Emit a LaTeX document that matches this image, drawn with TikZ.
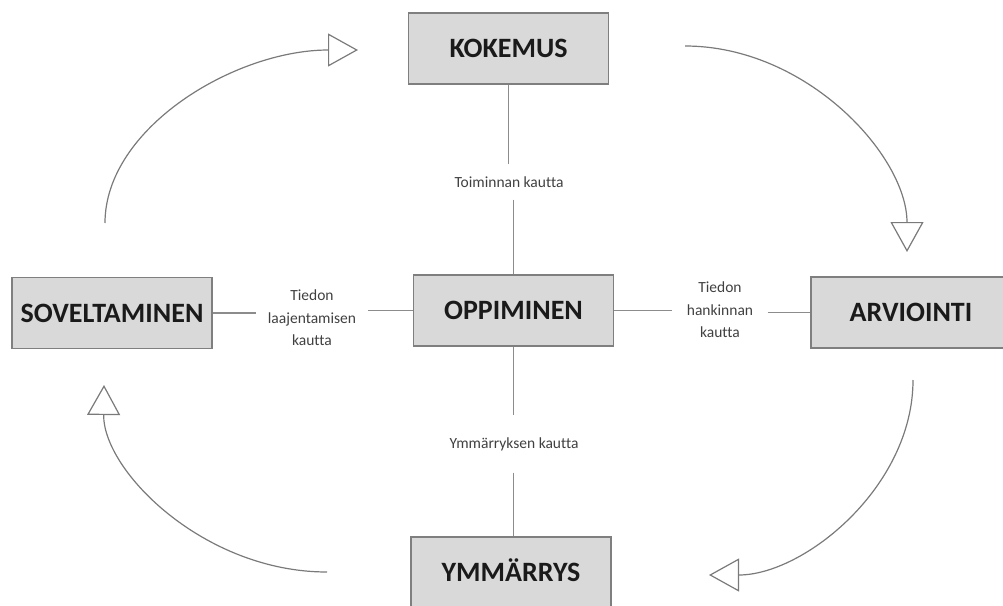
\documentclass[tikz,border=0pt]{standalone}
\usepackage{fontspec}
\setmainfont{Carlito}[Ligatures=NoCommon]
\usetikzlibrary{arrows.meta}
\definecolor{boxfill}{HTML}{D9D9D9}
\definecolor{boxline}{HTML}{7F7F7F}
\definecolor{linkline}{HTML}{8C8C8C}
\definecolor{cycleline}{HTML}{7A7A7A}
\definecolor{labeltext}{HTML}{404040}
\definecolor{titletext}{HTML}{1A1A1A}
\tikzset{
  stage/.style={draw=boxline, fill=boxfill, line width=1.4pt, minimum width=200pt,
    minimum height=71pt, inner sep=0pt, text=titletext, text height=19pt, text depth=1pt,
    font=\fontsize{28}{30}\selectfont\bfseries},
  via/.style={inner sep=0pt, align=center, text=labeltext,
    font=\fontsize{15.5}{22.5}\selectfont},
  link/.style={draw=linkline, line width=1.2pt},
  cycle/.style={draw=cycleline, line width=1.2pt,
    -{Triangle[open, length=30pt, width=33pt, line width=1.2pt]}},
}
\begin{document}
\begin{tikzpicture}[x=1pt, y=-1pt]
\useasboundingbox (0,0) rectangle (1003,605);

% the five stages
\node[stage] (kok) at (508.5,48.5) {KOKEMUS};
\node[stage] (opp) at (513.5,310.5) {OPPIMINEN};
\node[stage] (arv) at (911,312.5) {ARVIOINTI};
\node[stage] (sov) at (112,313) {SOVELTAMINEN};
\node[stage] (ymm) at (511,572.5) {YMM\"ARRYS};

% labels on the spokes
\node[via, minimum height=35pt] (toi) at (509,182) {Toiminnan kautta};
\node[via, minimum width=112pt] (laa) at (312,318) {Tiedon\\laajentamisen\\kautta};
\node[via, minimum width=95pt] (han) at (720,310) {Tiedon\\hankinnan\\kautta};
\node[via, minimum height=57pt] (ymk) at (514,444) {Ymm\"arryksen kautta};

% spokes from the centre to each stage
\draw[link] (kok) -- (kok |- toi.north);
\draw[link] (toi.south -| opp) -- (opp);
\draw[link] (sov) -- (sov -| laa.west);
\draw[link] (laa.east |- opp) -- (opp);
\draw[link] (opp) -- (opp -| han.west);
\draw[link] (han.east |- arv) -- (arv);
\draw[link] (opp) -- (opp |- ymk.north);
\draw[link] (ymk.south -| opp) -- (ymm.north -| opp);

% the outer cycle
\coordinate (c1s) at (105,223);
\coordinate (c1e) at (358,50);
\coordinate (c2s) at (685,46);
\coordinate (c2e) at (907,252);
\coordinate (c3s) at (913,380);
\coordinate (c3e) at (709,575);
\coordinate (c4s) at (327,572);
\coordinate (c4e) at (104,385);
\draw[cycle] (c1s) .. controls (105,128) and (235,50) .. (c1e);
\draw[cycle] (c2s) .. controls (807,46) and (907,156) .. (c2e);
\draw[cycle] (c3s) .. controls (913,487) and (804,575) .. (c3e);
\draw[cycle] (c4s) .. controls (204,572) and (103,471) .. (c4e);
\end{tikzpicture}
\end{document}
